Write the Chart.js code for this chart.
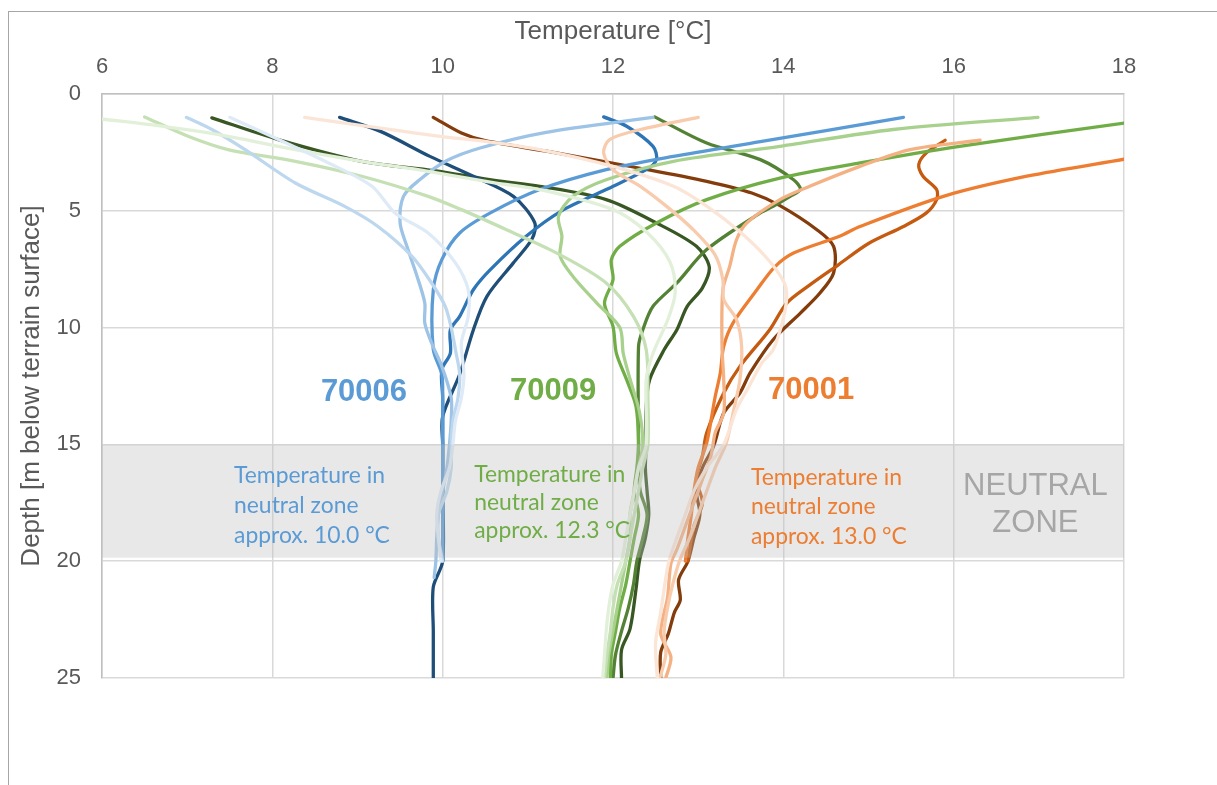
<!DOCTYPE html>
<html>
<head>
<meta charset="utf-8">
<script src="https://cdn.jsdelivr.net/npm/chart.js@4.4.1/dist/chart.umd.min.js"></script>
<style>
  html, body { margin: 0; padding: 0; background: #ffffff; }
  canvas { display: block; }
</style>
</head>
<body>
<canvas id="profiles" width="1217" height="785"></canvas>
<script>
// Axis ticks
const tempTicks = [6, 8, 10, 12, 14, 16, 18];
const depthTicks = [0, 5, 10, 15, 20, 25];
const neutralZone = [15, 19.85];

// Temperature profiles, pairs of [temperature °C, depth m below terrain]
// Well 70006
const w70006_p1 = [[7.50,1.0],[7.99,1.81],[8.66,2.95],[9.17,3.95],[9.44,5.09],[9.83,5.95],[10.15,7.23],[10.30,8.38],[10.30,9.52],[10.22,10.66],[10.25,12],[10.22,13],[10.15,14],[10.12,15],[10.08,16],[9.98,17],[9.93,18],[9.95,19],[9.98,20]];
const w70006_p2 = [[6.99,1.0],[7.29,1.52],[7.68,2.38],[8.27,3.81],[8.85,4.81],[9.24,5.67],[9.64,6.95],[9.87,8.09],[10.03,9.09],[10.10,10.0],[10.15,10.95],[10.20,12],[10.18,13],[10.12,14],[10.10,15],[10.10,16],[10.05,17],[9.95,18],[9.95,19],[10.00,20]];
const w70006_p3 = [[12.47,1.0],[11.20,1.65],[10.44,2.31],[10.05,2.85],[9.73,3.67],[9.54,4.38],[9.50,5.52],[9.58,6.52],[9.70,7.81],[9.79,8.95],[9.79,9.80],[9.87,10.66],[9.99,11.66],[10.10,13],[10.10,14],[10.08,15],[10.05,16],[10.00,17],[9.95,18],[9.93,19],[9.92,20],[9.90,20.7]];
const w70006_p4 = [[15.41,1.0],[13.73,2.04],[12.71,2.67],[11.92,3.24],[11.14,4.09],[10.56,5.09],[10.20,5.95],[9.99,7.09],[9.89,8.38],[9.89,10.94],[9.99,12],[10.00,13],[10.00,15],[10.00,17],[10.00,20]];
const w70006_p5 = [[11.89,0.98],[12.16,1.38],[12.47,2.24],[12.51,2.81],[12.39,3.24],[11.92,4.09],[11.42,4.95],[10.98,6.09],[10.56,7.52],[10.36,8.38],[10.20,9.52],[10.09,10.1],[10.09,11.1],[9.99,11.8],[10.00,13],[10.00,15],[10.00,20]];
const w70006_p6 = [[8.79,1.0],[9.27,1.6],[9.85,2.67],[10.36,3.52],[10.83,4.38],[11.08,5.5],[11.05,6.2],[10.83,7.23],[10.52,8.66],[10.36,10.1],[10.20,12],[10.00,13.8],[10.00,15],[10.00,17],[10.00,20],[9.89,21.1],[9.89,23],[9.89,25]];

// Well 70009
const w70009_p1 = [[6.00,1.07],[6.70,1.38],[7.48,1.81],[8.27,2.38],[9.05,2.88],[9.83,3.31],[10.61,3.8],[11.14,4.09],[12.00,4.95],[12.40,5.93],[12.67,7.2],[12.73,8.5],[12.65,9.6],[12.47,11.1],[12.39,12.23],[12.39,15],[12.30,16],[12.25,17],[12.20,18],[12.15,19],[12.10,20],[12.00,21],[11.95,22],[11.92,23],[11.90,24],[11.88,25]];
const w70009_p2 = [[6.50,0.98],[7.01,1.81],[7.48,2.38],[8.27,2.88],[9.05,3.52],[9.83,4.38],[10.22,4.95],[10.75,5.81],[11.34,6.81],[11.92,8.09],[12.24,9.52],[12.39,10.95],[12.41,13],[12.41,15],[12.35,16],[12.30,17],[12.25,18],[12.20,19],[12.15,20],[12.05,21],[12.00,22],[11.97,23],[11.93,24],[11.90,25]];
const w70009_p3 = [[16.99,1.0],[15.29,1.52],[13.96,2.24],[12.71,2.88],[11.92,3.67],[11.53,4.38],[11.36,5.24],[11.40,6.09],[11.38,6.95],[11.53,7.81],[11.81,8.95],[12.08,10.0],[12.12,11.1],[12.20,12.2],[12.31,13.6],[12.35,15],[12.30,16],[12.25,17],[12.20,18],[12.20,19],[12.15,20],[12.10,21],[12.05,22],[12.00,23],[11.95,24],[11.93,25]];
const w70009_p4 = [[18.50,1.0],[18.02,1.24],[16.07,2.24],[14.90,2.95],[13.96,3.6],[13.10,4.52],[12.51,5.52],[12.08,6.52],[11.98,7.1],[12.00,7.95],[11.90,8.95],[12.00,9.95],[12.04,11.1],[12.16,12.23],[12.27,13.37],[12.30,14.94],[12.28,16],[12.25,17],[12.30,18],[12.25,19],[12.20,20],[12.15,21],[12.08,22],[12.03,23],[11.98,24],[11.97,25]];
const w70009_p5 = [[12.49,0.98],[13.10,2.1],[13.73,2.81],[14.12,3.67],[14.20,4.09],[14.08,4.38],[13.88,4.81],[13.73,5.09],[13.10,6.66],[12.75,8.09],[12.47,9.09],[12.35,10.09],[12.30,10.8],[12.30,15],[12.30,16],[12.32,17],[12.40,18],[12.35,19],[12.28,20],[12.24,21],[12.18,22],[12.10,23],[12.03,24],[12.00,25]];
const w70009_p6 = [[7.29,1.02],[8.07,1.95],[9.05,2.88],[9.90,3.28],[10.61,3.7],[11.14,3.95],[11.92,4.52],[12.51,5.52],[12.98,6.52],[13.13,7.4],[13.05,8.3],[12.87,9.1],[12.75,10.09],[12.60,10.95],[12.43,12.23],[12.39,13.37],[12.39,15],[12.38,16],[12.40,17],[12.42,18],[12.38,19],[12.31,20],[12.27,21.2],[12.20,22.9],[12.10,23.8],[12.10,25]];

// Well 70001
const w70001_p1 = [[8.38,1.0],[9.44,1.55],[9.97,1.81],[10.54,2.05],[11.14,2.38],[12.00,3.1],[12.71,3.95],[13.10,4.8],[13.49,5.9],[13.80,7.0],[14.00,8.0],[14.04,8.6],[14.00,9.6],[13.88,10.95],[13.75,11.5],[13.60,12.5],[13.45,13.5],[13.30,15],[13.10,16],[12.95,17],[12.85,18],[12.75,19],[12.65,20.1],[12.56,22.2],[12.50,23.5],[12.52,25]];
const w70001_p2 = [[13.00,1.0],[12.32,1.52],[11.96,1.95],[11.89,2.52],[12.00,3.24],[12.32,3.95],[12.63,4.81],[12.94,5.8],[13.20,6.9],[13.29,7.95],[13.30,8.8],[13.45,9.66],[13.51,10.8],[13.49,12.23],[13.41,13.66],[13.33,14.94],[13.20,16],[13.10,17],[13.00,18],[12.90,19],[12.78,20],[12.70,21],[12.64,22],[12.60,23],[12.62,24],[12.55,25]];
const w70001_p3 = [[16.31,1.98],[15.49,2.38],[14.90,3.1],[14.31,3.95],[13.96,4.52],[13.57,5.52],[13.45,6.24],[13.37,7.38],[13.29,8.38],[13.28,10.8],[13.30,12.23],[13.30,13.66],[13.20,14.5],[13.15,15.5],[13.05,16.5],[12.95,17.5],[12.85,18.5],[12.75,19.5],[12.68,20.1],[12.64,21.55],[12.56,23.1],[12.68,24.1],[12.62,25]];
const w70001_p4 = [[18.50,2.47],[18.02,2.78],[16.86,3.52],[15.88,4.38],[14.90,5.67],[14.66,6.09],[14.12,6.81],[13.90,7.4],[13.69,8.38],[13.41,9.8],[13.30,10.8],[13.26,11.94],[13.20,12.95],[13.10,14.94],[13.00,16],[12.95,17],[12.92,18],[12.88,19],[12.85,20]];
const w70001_p5 = [[15.90,1.98],[15.68,2.52],[15.59,3.02],[15.64,3.52],[15.80,4.09],[15.80,4.52],[15.68,5.09],[15.41,5.67],[15.00,6.4],[14.65,7.3],[14.30,8.2],[14.04,8.95],[13.84,10.09],[13.49,11.66],[13.30,12.8],[13.10,14.5],[13.05,15.5],[12.98,16.5],[13.05,17.5],[12.95,18.5],[12.90,19.5],[12.88,20]];
const w70001_p6 = [[9.89,1.0],[10.22,1.67],[10.50,2.0],[11.22,2.45],[12.35,3.2],[13.10,3.74],[13.63,4.24],[13.96,4.78],[14.39,5.8],[14.59,6.52],[14.59,7.66],[14.43,8.52],[14.20,9.38],[13.88,10.52],[13.61,11.94],[13.49,12.8],[13.30,13.66],[13.18,15.09],[13.05,16],[12.98,17],[13.02,18],[12.95,19],[12.88,20],[12.77,20.8],[12.79,21.66],[12.72,22.2],[12.65,23.1],[12.56,23.9],[12.56,25]];

// Line colours per well, from oldest (lightest) to newest (darkest) profile
const blues   = ['#deebf7', '#bdd7ee', '#9dc3e6', '#5b9bd5', '#2e75b6', '#1f4e79'];
const greens  = ['#e2f0d9', '#c5e0b4', '#a9d18e', '#70ad47', '#548235', '#385723'];
const oranges = ['#fbe5d6', '#f8cbad', '#f4b183', '#ed7d31', '#c55a11', '#843c0c'];

const wells = [
  { id: '70006', profiles: [w70006_p1, w70006_p2, w70006_p3, w70006_p4, w70006_p5, w70006_p6], colors: blues },
  { id: '70009', profiles: [w70009_p1, w70009_p2, w70009_p3, w70009_p4, w70009_p5, w70009_p6], colors: greens },
  { id: '70001', profiles: [w70001_p1, w70001_p2, w70001_p3, w70001_p4, w70001_p5, w70001_p6], colors: oranges }
];

const datasets = [];
for (let i = 0; i < 6; i++) {
  for (const w of wells) {
    datasets.push({
      label: w.id + ' profile ' + (i + 1),
      data: w.profiles[i].map(([t, d]) => ({ x: t, y: d })),
      borderColor: w.colors[i],
      borderWidth: 3.3,
      borderCapStyle: 'round',
      borderJoinStyle: 'round',
      pointRadius: 0,
      showLine: true,
      fill: false,
      tension: 0.3
    });
  }
}

const AXIS_FONT = 'Arial, "Liberation Sans", sans-serif';
const NOTE_FONT = 'Lato, "Open Sans", sans-serif';

// Labels placed in data coordinates [temperature, depth]
const wellLabels = [
  { text: '70006', at: [8.57, 13.13], color: '#5b9bd5' },
  { text: '70009', at: [10.79, 13.09], color: '#70ad47' },
  { text: '70001', at: [13.82, 13.07], color: '#ed7d31' }
];
const zoneNotes = [
  { lines: ['Temperature in', 'neutral zone', 'approx. 10.0 °C'], at: [7.55, 16.66], step: 1.28, color: '#5b9bd5' },
  { lines: ['Temperature in', 'neutral zone', 'approx. 12.3 °C'], at: [10.37, 16.59], step: 1.21, color: '#70ad47' },
  { lines: ['Temperature in', 'neutral zone', 'approx. 13.0 °C'], at: [13.62, 16.73], step: 1.26, color: '#ed7d31' }
];
const zoneTitle = { lines: ['NEUTRAL', 'ZONE'], at: [16.96, 17.16], step: 1.57, color: '#a6a6a6' };

const overlayPlugin = {
  id: 'overlay',
  beforeDraw(chart) {
    const ctx = chart.ctx;
    ctx.save();
    ctx.strokeStyle = '#a6a6a6';
    ctx.lineWidth = 1;
    ctx.strokeRect(8.5, 11.5, 1400, 1000);
    ctx.restore();
  },
  afterDatasetsDraw(chart) {
    const { ctx, chartArea, scales } = chart;
    const x = scales.x, y = scales.y;
    ctx.save();
    // neutral zone band, laid over the profiles
    const top = y.getPixelForValue(neutralZone[0]);
    const bottom = y.getPixelForValue(neutralZone[1]);
    ctx.fillStyle = 'rgba(190,190,190,0.35)';
    ctx.fillRect(chartArea.left, top, chartArea.right - chartArea.left, bottom - top);

    // well numbers
    ctx.textAlign = 'left';
    ctx.textBaseline = 'alphabetic';
    ctx.font = 'bold 31px ' + AXIS_FONT;
    for (const l of wellLabels) {
      ctx.fillStyle = l.color;
      ctx.fillText(l.text, x.getPixelForValue(l.at[0]), y.getPixelForValue(l.at[1]));
    }

    // notes in the neutral zone, sized so that the first line is about 151 px wide
    ctx.font = '100px ' + NOTE_FONT;
    const size = 100 * 151 / ctx.measureText('Temperature in').width;
    ctx.font = size.toFixed(1) + 'px ' + NOTE_FONT;
    for (const n of zoneNotes) {
      ctx.fillStyle = n.color;
      n.lines.forEach((line, k) => {
        ctx.fillText(line, x.getPixelForValue(n.at[0]), y.getPixelForValue(n.at[1] + k * n.step));
      });
    }

    ctx.textAlign = 'center';
    ctx.font = '31px ' + AXIS_FONT;
    ctx.fillStyle = zoneTitle.color;
    zoneTitle.lines.forEach((line, k) => {
      ctx.fillText(line, x.getPixelForValue(zoneTitle.at[0]), y.getPixelForValue(zoneTitle.at[1] + k * zoneTitle.step));
    });
    ctx.restore();
  }
};

new Chart(document.getElementById('profiles'), {
  type: 'scatter',
  data: { datasets },
  plugins: [overlayPlugin],
  options: {
    responsive: false,
    animation: false,
    devicePixelRatio: 1,
    layout: { padding: { left: 0, top: 0, right: 93, bottom: 107 } },
    plugins: { legend: { display: false }, tooltip: { enabled: false } },
    scales: {
      x: {
        type: 'linear',
        position: 'top',
        min: 6, max: 18,
        afterBuildTicks: s => { s.ticks = tempTicks.map(v => ({ value: v })); },
        afterFit: s => { s.height = 94; },
        grid: { color: '#d9d9d9', lineWidth: 1.5, drawTicks: false },
        border: { color: '#bfbfbf', width: 1.5 },
        ticks: { color: '#595959', font: { family: AXIS_FONT, size: 22 }, padding: 14 },
        title: { display: true, text: 'Temperature [°C]', color: '#595959',
                 font: { family: AXIS_FONT, size: 26 }, padding: { top: 16, bottom: 0 } }
      },
      y: {
        type: 'linear',
        reverse: true,
        min: 0, max: 25,
        afterBuildTicks: s => { s.ticks = depthTicks.map(v => ({ value: v })); },
        afterFit: s => { s.width = 102; },
        grid: { color: '#d9d9d9', lineWidth: 1.5, drawTicks: false },
        border: { color: '#bfbfbf', width: 1.5 },
        ticks: { color: '#595959', font: { family: AXIS_FONT, size: 22 }, padding: 21 },
        title: { display: true, text: 'Depth [m below terrain surface]', color: '#595959',
                 font: { family: AXIS_FONT, size: 26 }, padding: { top: 16, bottom: 0 } }
      }
    }
  }
});
</script>
</body>
</html>
